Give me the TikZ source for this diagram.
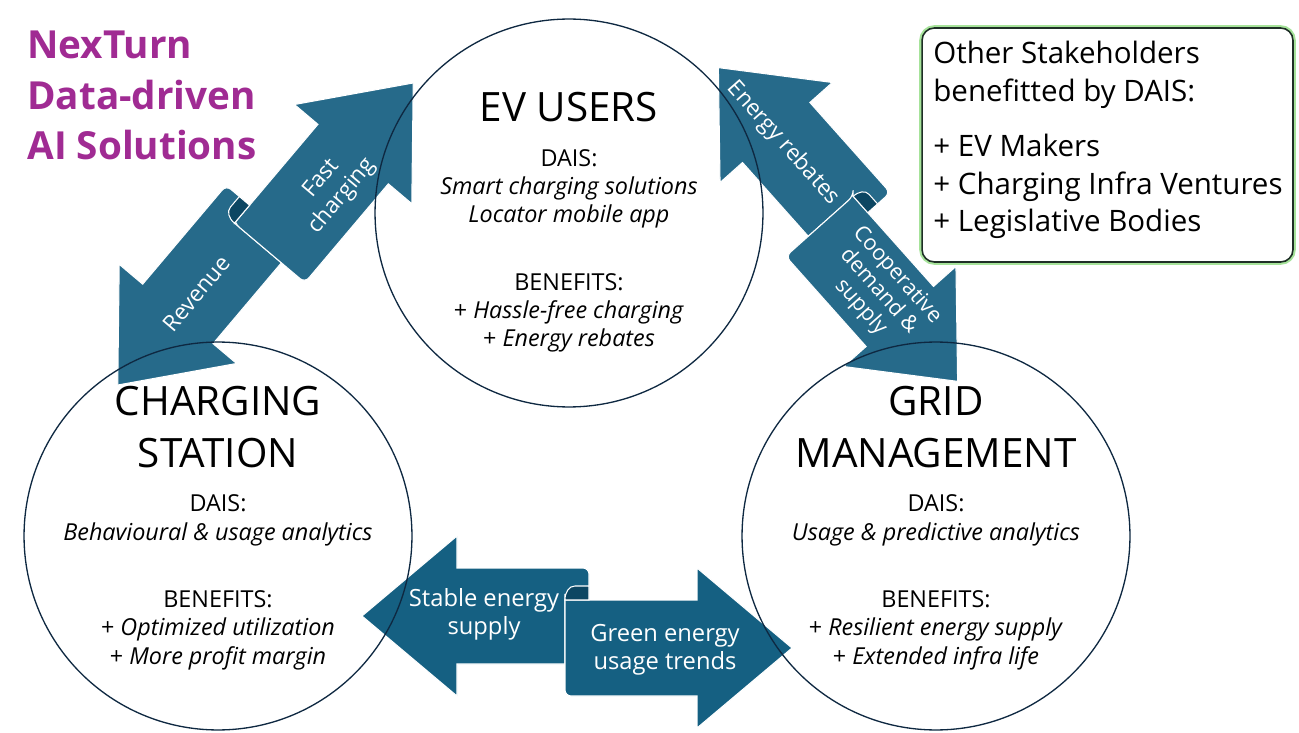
\documentclass[tikz,border=0pt]{standalone}
\usepackage{fontspec}
\setmainfont{Open Sans}
\setsansfont{Open Sans}
\usepackage{xcolor}
\definecolor{cTitle}{RGB}{160, 43, 147}
\definecolor{cRibbon}{RGB}{21, 96, 130}
\definecolor{cRibbonLight}{RGB}{38, 106, 138}
\definecolor{cFold}{RGB}{12, 70, 98}
\definecolor{cCircle}{RGB}{14, 40, 65}
\definecolor{cGlow}{RGB}{166, 227, 154}
\definecolor{bBox}{RGB}{30, 46, 38}

\tikzset{
    ribbonpart/.style={draw=white, line width=0.6pt, pic actions},
    ribbon/.pic={
        % half pointing back (upper band)
        \path[ribbonpart] (-215,-16) -- (-120,-96) -- (-120,-64) [rounded corners=3.5pt] -- (12,-64)
            -- (12,-32) [sharp corners] -- (-12,-32) -- (-12,32) -- (-120,32) -- (-120,64) -- cycle;
        % half pointing forward (lower band)
        \path[ribbonpart] (-12,-32) -- (120,-32) -- (120,-64) -- (215,16) -- (120,96) -- (120,64)
            [rounded corners=3.5pt] -- (-12,64) -- (-12,-32) [sharp corners] -- cycle;
        % the fold
        \path[ribbonpart, fill=cFold] (-12,-32) .. controls (-12,-40) and (-8,-46) .. (-2,-46)
            -- (12,-46) -- (12,-32) -- cycle;
    }
}

\begin{document}
\begin{tikzpicture}[
    x=0.02cm, y=-0.02cm,
    hub/.style={circle, draw=cCircle, line width=0.75pt, minimum size=7.76cm, inner sep=0pt},
    hubtitle/.style={font=\fontsize{23}{29.5}\selectfont, align=center, inner sep=0pt},
    hubtext/.style={font=\fontsize{13.3}{16.2}\selectfont, align=center, inner sep=0pt},
    ribbonlabel/.style={text=white, align=center, inner sep=0pt, font=\fontsize{12.8}{15.5}\selectfont},
    stakebox/.style={
        draw=bBox,
        line width=0.9pt,
        rounded corners=7pt,
        fill=white,
        preaction={draw=cGlow, line width=3.2pt}
    }
]

\path[use as bounding box, fill=white] (0,0) rectangle (1299,733);

% Title
\node[text=cTitle, font=\fontsize{22}{28.9}\selectfont\bfseries, align=left, anchor=base west, inner sep=0pt] (brand) at (27,160) {NexTurn\\Data-driven\\AI Solutions};

% Ribbon: charging station <-> EV users
\begin{scope}[shift={(265.5,234)}, rotate=49.8, xscale=.98, yscale=.96]
    \pic[fill=cRibbonLight, transform shape] {ribbon};
    \node[ribbonlabel, rotate=49.8] (revenue) at (-92,-15) {Revenue};
    \node[ribbonlabel, rotate=49.8] (fastcharge) at (80,22) {Fast\\charging};
\end{scope}

% Ribbon: EV users <-> grid management
\begin{scope}[shift={(838,224.5)}, rotate=-48.3, xscale=.915, yscale=.94]
    \pic[fill=cRibbonLight, transform shape] {ribbon};
    \node[ribbonlabel, rotate=-48.3] (rebates) at (-106,-14) {Energy rebates};
    \node[ribbonlabel, rotate=-48.3, font=\fontsize{12.3}{13.8}\selectfont] (coop) at (84,15) {Cooperative\\demand \&\\supply};
\end{scope}

% Ribbon: charging station <-> grid management
\begin{scope}[shift={(577,632)}]
    \pic[fill=cRibbon, transform shape] {ribbon};
    \node[ribbonlabel, font=\fontsize{13.5}{16}\selectfont] (stable) at (-93,-18) {Stable energy\\supply};
    \node[ribbonlabel, font=\fontsize{13.5}{16}\selectfont] (green) at (88,18) {Green energy\\usage trends};
\end{scope}

% Stakeholders
\node[hub] (evusers) at (569,213) {};
\node[hub] (station) at (218,536) {};
\node[hub] (grid) at (936,536) {};

% EV users
\node[hubtitle, anchor=base] (evtitle) at (569,122) {EV USERS};
\node[hubtext, anchor=base] (evdais) at (569,223) {DAIS:\\\textit{Smart charging solutions}\\\textit{Locator mobile app}};
\node[hubtext, anchor=base] (evgain) at (569,347) {BENEFITS:\\+ \textit{Hassle-free charging}\\+ \textit{Energy rebates}};

% Charging station
\node[hubtitle, anchor=base] (sttitle) at (218,467) {CHARGING\\STATION};
\node[hubtext, anchor=base] (stdais) at (218,540) {DAIS:\\\textit{Behavioural \& usage analytics}};
\node[hubtext, anchor=base] (stgain) at (218,664) {BENEFITS:\\+ \textit{Optimized utilization}\\+ \textit{More profit margin}};

% Grid management
\node[hubtitle, anchor=base] (grtitle) at (936,467) {GRID\\MANAGEMENT};
\node[hubtext, anchor=base] (grdais) at (936,540) {DAIS:\\\textit{Usage \& predictive analytics}};
\node[hubtext, anchor=base] (grgain) at (936,664) {BENEFITS:\\+ \textit{Resilient energy supply}\\+ \textit{Extended infra life}};

% Other stakeholders
\node[stakebox, minimum width=7.42cm, minimum height=4.68cm] (others) at (1107.5,145) {};
\node[font=\fontsize{16.8}{21.6}\selectfont, align=left, anchor=base west, inner sep=0pt] (otherlist) at (933,232)
    {Other Stakeholders\\benefitted by DAIS:\\[9.6pt]+ EV Makers\\+ Charging Infra Ventures\\+ Legislative Bodies};

\end{tikzpicture}
\end{document}
